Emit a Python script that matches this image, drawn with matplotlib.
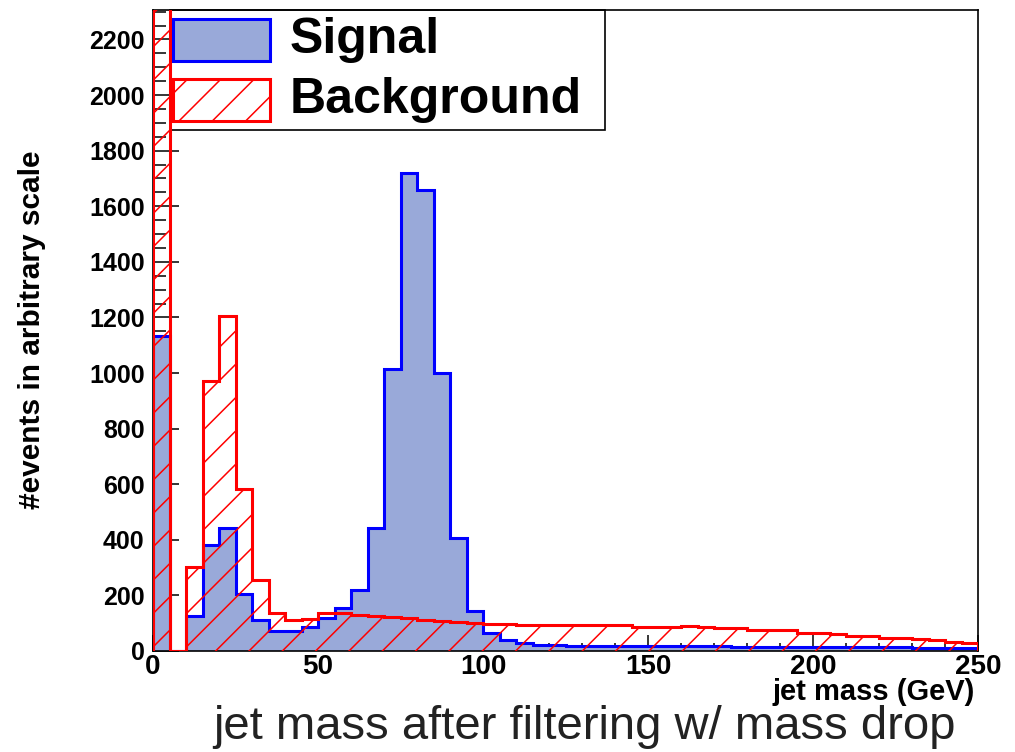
import matplotlib
matplotlib.use('Agg')
import matplotlib.pyplot as plt
import numpy as np
from matplotlib import font_manager
from matplotlib.patches import Rectangle
from matplotlib.ticker import MultipleLocator

plt.rcParams['font.family'] = ['Liberation Sans', 'DejaVu Sans']
plt.rcParams['hatch.linewidth'] = 1.1

names = {f.name for f in font_manager.fontManager.ttflist}
has_narrow = 'Liberation Sans Narrow' in names
narrow = 'Liberation Sans Narrow' if has_narrow else 'Liberation Sans'

# 5 GeV bins from 0 to 250
edges = np.arange(0, 255, 5)
signal = [1135, 0, 127, 381, 444, 204, 111, 72, 72, 85,
          118, 153, 220, 444, 1014, 1718, 1658, 1001, 408, 144,
          66, 40, 28, 22, 20, 19, 18, 18, 18, 18,
          18, 17, 17, 17, 17, 16, 16, 16, 16, 15,
          15, 15, 14, 14, 13, 13, 12, 12, 11, 10]
background = [4000, 0, 303, 971, 1205, 582, 255, 135, 111, 114,
              135, 137, 129, 127, 124, 117, 111, 108, 103, 100,
              97, 96, 95, 95, 94, 94, 95, 94, 93, 87,
              87, 87, 90, 87, 82, 82, 76, 76, 75, 64,
              64, 60, 54, 54, 48, 48, 43, 40, 34, 30]

W, H = 1015, 752
fig = plt.figure(figsize=(W/100, H/100), dpi=100)
ax = fig.add_axes([153/W, 1-651/H, (978-153)/W, (651-10)/H])

def px(x, y):
    return x/W, 1-y/H

sig_face = '#99a9d9'
ax.stairs(signal, edges, fill=True, facecolor=sig_face, edgecolor='#0000ff',
          linewidth=2.2, zorder=2)
ax.stairs(background, edges, fill=True, facecolor='none', edgecolor='#ff0000',
          hatch='/', linewidth=2.2, zorder=3)

ax.set_xlim(0, 250)
ax.set_ylim(0, 2306)
ax.xaxis.set_major_locator(MultipleLocator(50))
ax.xaxis.set_minor_locator(MultipleLocator(10))
ax.yaxis.set_major_locator(MultipleLocator(200))
ax.yaxis.set_minor_locator(MultipleLocator(50))
ax.tick_params(which='both', direction='in', top=False, right=False, width=1.1)
ax.tick_params(axis='x', which='major', length=11.5, pad=2, labelsize=20)
ax.tick_params(axis='x', which='minor', length=5.8)
ax.tick_params(axis='y', which='major', length=19, pad=6, labelsize=18)
ax.tick_params(axis='y', which='minor', length=9.5)
for lab in ax.get_xticklabels() + ax.get_yticklabels():
    lab.set_fontweight('bold')
for s in ax.spines.values():
    s.set_linewidth(1.2)

# legend box drawn by hand, ROOT style
x0, y0 = px(169.5, 130)
x1, y1 = px(605, 10)
ax.add_patch(Rectangle((x0, y0), x1-x0, y1-y0, transform=fig.transFigure,
                       facecolor='white', edgecolor='black', linewidth=1.2,
                       clip_on=False, zorder=1))
ax.add_patch(Rectangle(px(173, 61), 97/W, 42/H, transform=fig.transFigure,
                       facecolor=sig_face, edgecolor='#0000ff', linewidth=2.2,
                       clip_on=False, zorder=4))
ax.add_patch(Rectangle(px(173, 121), 97/W, 42/H, transform=fig.transFigure,
                       facecolor='white', edgecolor='#ff0000', hatch='/',
                       linewidth=2.2, clip_on=False, zorder=4))
fig.text(*px(290, 40), 'Signal', fontsize=36, fontweight='bold', va='center', ha='left')
fig.text(*px(290, 100), 'Background', fontsize=36, fontweight='bold', va='center', ha='left')

fig.text(*px(975, 692), 'jet mass (GeV)', fontsize=21, fontweight='bold',
         ha='right', va='center')
fig.text(*px(32, 330), '#events in arbitrary scale', fontweight='bold',
         fontsize=26 if has_narrow else 21.5,
         family=narrow, rotation=90, ha='center', va='center')
fig.text(*px(584, 739), 'jet mass after filtering w/ mass drop',
         fontsize=37 if has_narrow else 34,
         family=narrow, color='#222222', ha='center', va='baseline')

fig.savefig('out.png', dpi=100)
